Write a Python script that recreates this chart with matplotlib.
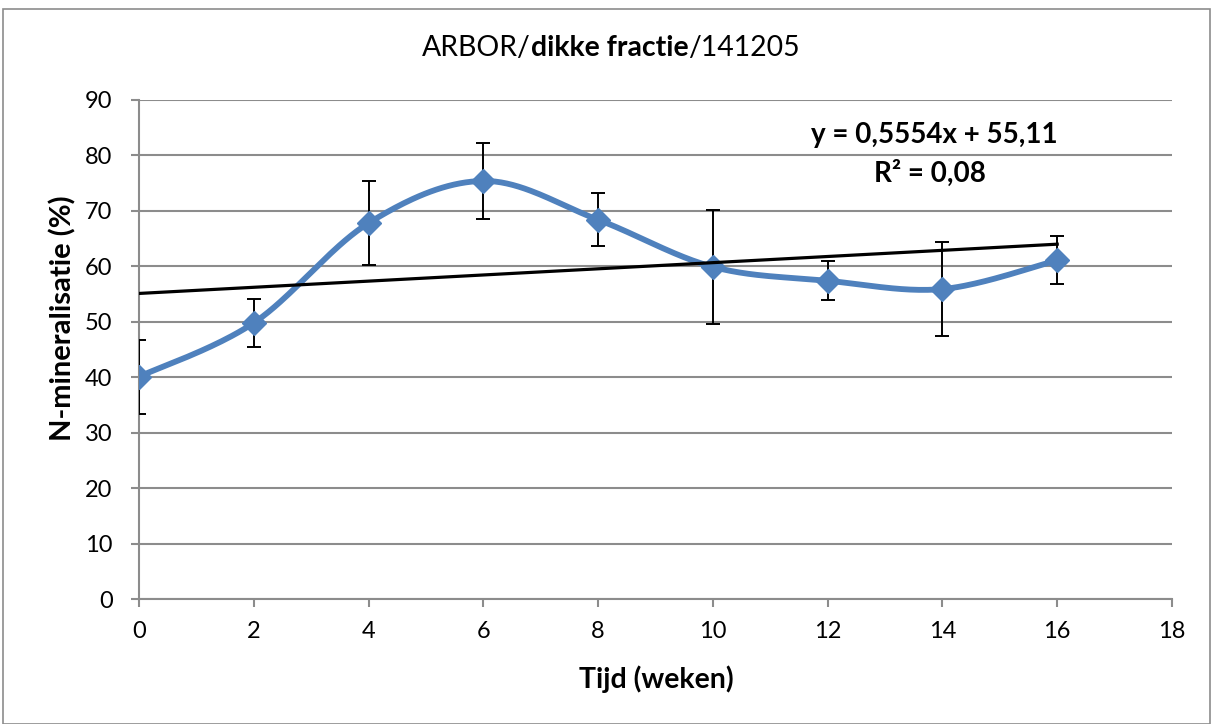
import numpy as np
import matplotlib
matplotlib.use("Agg")
import matplotlib.pyplot as plt
from matplotlib.offsetbox import TextArea, HPacker, AnchoredOffsetbox
from matplotlib.patches import Rectangle

# Measured N-mineralisation over time
weeks = [0, 2, 4, 6, 8, 10, 12, 14, 16]
n_min = [40.1, 49.8, 67.8, 75.4, 68.4, 59.9, 57.4, 55.9, 61.1]
n_err = [6.7, 4.3, 7.6, 6.8, 4.8, 10.3, 3.5, 8.5, 4.3]

# Linear trend line
slope = 0.5554
intercept = 55.11
r_squared = "0,08"

x_ticks = [0, 2, 4, 6, 8, 10, 12, 14, 16, 18]
y_ticks = [0, 10, 20, 30, 40, 50, 60, 70, 80, 90]

FONT = ["Lato", "DejaVu Sans"]
plt.rcParams["font.family"] = FONT

BLUE = "#4F81BD"
GRID = "#8C8C8C"


def smooth_curve(xs, ys, n=40):
    """Catmull-Rom style smoothing through all points."""
    xs = np.asarray(xs, float)
    ys = np.asarray(ys, float)
    px = np.concatenate([[xs[0]], xs, [xs[-1]]])
    py = np.concatenate([[ys[0]], ys, [ys[-1]]])
    out_x, out_y = [], []
    for i in range(1, len(px) - 2):
        p0 = np.array([px[i - 1], py[i - 1]])
        p1 = np.array([px[i], py[i]])
        p2 = np.array([px[i + 1], py[i + 1]])
        p3 = np.array([px[i + 2], py[i + 2]])
        c1 = p1 + (p2 - p0) / 6.0
        c2 = p2 - (p3 - p1) / 6.0
        t = np.linspace(0, 1, n)[:, None]
        pts = ((1 - t) ** 3) * p1 + 3 * ((1 - t) ** 2) * t * c1 \
            + 3 * (1 - t) * t ** 2 * c2 + t ** 3 * p2
        out_x.extend(pts[:, 0])
        out_y.extend(pts[:, 1])
    return np.array(out_x), np.array(out_y)


W, H = 1213, 724
fig = plt.figure(figsize=(W / 100, H / 100), dpi=100)
fig.patches.append(Rectangle((3 / W, 0.0), 1 - 6 / W, 1 - 9 / H,
                             transform=fig.transFigure, fill=False,
                             edgecolor="#8C8C8C", linewidth=1.2))

ax = fig.add_axes([139 / W, 1 - 599 / H, (1172 - 139) / W, (599 - 100) / H])

ax.set_xlim(0, 18)
ax.set_ylim(0, 90)
ax.set_xticks(x_ticks)
ax.set_yticks(y_ticks)
ax.yaxis.grid(True, color=GRID, linewidth=1.5)
ax.set_axisbelow(True)

for side in ("top", "right"):
    ax.spines[side].set_visible(False)
for side in ("left", "bottom"):
    ax.spines[side].set_color(GRID)
    ax.spines[side].set_linewidth(1.5)
    ax.spines[side].set_zorder(1)

ax.tick_params(axis="both", colors=GRID, width=1.5, length=6, direction="out",
               labelsize=17, labelcolor="black")
ax.tick_params(axis="x", pad=10)
ax.tick_params(axis="y", pad=13)

# Smoothed series line
sx, sy = smooth_curve(weeks, n_min)
ax.plot(sx, sy, color=BLUE, linewidth=4.2, solid_capstyle="round", zorder=3)

# Error bars
ax.errorbar(weeks, n_min, yerr=n_err, fmt="none", ecolor="black",
            elinewidth=1.4, capsize=5, capthick=1.4, zorder=4)

# Diamond markers
ax.plot(weeks, n_min, linestyle="none", marker="D", markersize=12.5,
        color=BLUE, markeredgecolor=BLUE, zorder=5)

# Trend line
tx = np.array([weeks[0], weeks[-1]])
ax.plot(tx, slope * tx + intercept, color="black", linewidth=2.3, zorder=6)

eq = f"y = {slope:.4f}x + {intercept:.2f}".replace(".", ",")
ax.text(13.85, 83.7, eq, ha="center", va="center", fontsize=20,
        fontweight="bold", zorder=7)
ax.text(13.78, 76.8, f"R² = {r_squared}", ha="center", va="center",
        fontsize=20, fontweight="bold", zorder=7)

fig.text(656 / W, 1 - 679 / H, "Tijd (weken)", ha="center", va="center",
         fontsize=20.5, fontweight="bold")
fig.text(63 / W, 1 - 318 / H, "N-mineralisatie (%)", ha="center", va="center",
         rotation=90, fontsize=21, fontweight="bold")

# Title with mixed weights
parts = [TextArea("ARBOR/", textprops=dict(fontsize=20.4, family=FONT)),
         TextArea("dikke fractie", textprops=dict(fontsize=20.4, family=FONT, fontweight="bold")),
         TextArea("/141205", textprops=dict(fontsize=20.4, family=FONT))]
title_box = HPacker(children=parts, align="baseline", pad=0, sep=0)
anchored = AnchoredOffsetbox(loc="center", child=title_box, frameon=False,
                             bbox_to_anchor=(611 / W, 1 - 48 / H),
                             bbox_transform=fig.transFigure, borderpad=0, pad=0)
fig.add_artist(anchored)

fig.savefig("out.png", dpi=100)
